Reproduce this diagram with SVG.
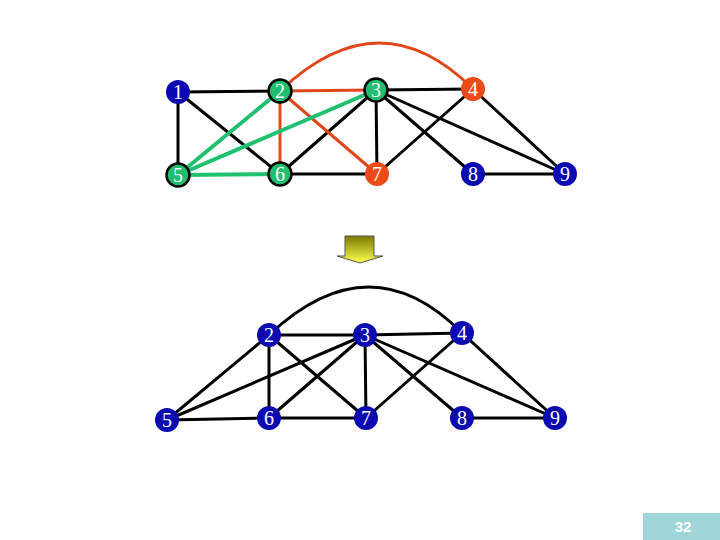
<svg xmlns="http://www.w3.org/2000/svg" width="720" height="540" viewBox="0 0 720 540">
<style>
.e{stroke:#000;stroke-width:3;fill:none;stroke-linecap:round}
.r{stroke:#e0481c;stroke-width:3;fill:none;stroke-linecap:round}
.g{stroke:#1fc070;stroke-width:4;fill:none;stroke-linecap:round}
.nb{fill:#0a0ab0}
.ng{fill:#1fbf6f;stroke:#000;stroke-width:2.5}
.nr{fill:#ec4a16}
.t{fill:#fff;font-family:"Liberation Serif","Times New Roman",serif;font-size:20px;text-anchor:middle}
</style>
<defs>
<linearGradient id="ag" x1="0" y1="0" x2="0" y2="1">
<stop offset="0" stop-color="#7a7a00"/>
<stop offset="1" stop-color="#ffff50"/>
</linearGradient>
</defs>
<rect width="720" height="540" fill="#fff"/>
<g id="connectors">
<path class="r" d="M280,91 Q380,-4 473,89"/>
<line class="e" x1="178" y1="92" x2="280" y2="91"/>
<line class="e" x1="178" y1="92" x2="178" y2="175"/>
<line class="e" x1="178" y1="92" x2="280" y2="174"/>
<line class="e" x1="376" y1="90" x2="473" y2="89"/>
<line class="e" x1="376" y1="90" x2="280" y2="174"/>
<line class="e" x1="376" y1="90" x2="377" y2="174"/>
<line class="e" x1="376" y1="90" x2="473" y2="174"/>
<line class="e" x1="376" y1="90" x2="565" y2="174"/>
<line class="e" x1="473" y1="89" x2="377" y2="174"/>
<line class="e" x1="473" y1="89" x2="565" y2="174"/>
<line class="e" x1="280" y1="174" x2="377" y2="174"/>
<line class="e" x1="473" y1="174" x2="565" y2="174"/>
<line class="r" x1="280" y1="91" x2="376" y2="90"/>
<line class="r" x1="280" y1="91" x2="280" y2="174"/>
<line class="r" x1="280" y1="91" x2="377" y2="174"/>
<line class="g" x1="178" y1="175" x2="280" y2="91"/>
<line class="g" x1="178" y1="175" x2="376" y2="90"/>
<line class="g" x1="178" y1="175" x2="280" y2="174"/>
<path class="e" d="M269,335 Q370,240 462,333"/>
<line class="e" x1="269" y1="335" x2="365" y2="335"/>
<line class="e" x1="365" y1="335" x2="462" y2="333"/>
<line class="e" x1="269" y1="335" x2="167" y2="420"/>
<line class="e" x1="365" y1="335" x2="167" y2="420"/>
<line class="e" x1="269" y1="335" x2="269" y2="418"/>
<line class="e" x1="269" y1="335" x2="366" y2="418"/>
<line class="e" x1="365" y1="335" x2="269" y2="418"/>
<line class="e" x1="365" y1="335" x2="366" y2="418"/>
<line class="e" x1="365" y1="335" x2="462" y2="418"/>
<line class="e" x1="365" y1="335" x2="555" y2="418"/>
<line class="e" x1="462" y1="333" x2="366" y2="418"/>
<line class="e" x1="462" y1="333" x2="555" y2="418"/>
<line class="e" x1="167" y1="420" x2="269" y2="418"/>
<line class="e" x1="269" y1="418" x2="366" y2="418"/>
<line class="e" x1="462" y1="418" x2="555" y2="418"/>
</g>
<g id="top-n1"><circle class="nb" cx="178" cy="92" r="12"/><text class="t" x="178" y="99">1</text></g>
<g id="top-n2"><circle class="ng" cx="280" cy="91" r="11.5"/><text class="t" x="280" y="98">2</text></g>
<g id="top-n3"><circle class="ng" cx="376" cy="90" r="11.5"/><text class="t" x="376" y="97">3</text></g>
<g id="top-n4"><circle class="nr" cx="473" cy="89" r="12"/><text class="t" x="473" y="96">4</text></g>
<g id="top-n5"><circle class="ng" cx="178" cy="175" r="11.5"/><text class="t" x="178" y="182">5</text></g>
<g id="top-n6"><circle class="ng" cx="280" cy="174" r="11.5"/><text class="t" x="280" y="181">6</text></g>
<g id="top-n7"><circle class="nr" cx="377" cy="174" r="12"/><text class="t" x="377" y="181">7</text></g>
<g id="top-n8"><circle class="nb" cx="473" cy="174" r="12"/><text class="t" x="473" y="181">8</text></g>
<g id="top-n9"><circle class="nb" cx="565" cy="174" r="12"/><text class="t" x="565" y="181">9</text></g>
<g id="arrow"><path d="M345,236 H374 V256 H383 L360,263 L337,256 H345 Z" fill="url(#ag)" stroke="#555" stroke-width="1"/></g>
<g id="bot-n2"><circle class="nb" cx="269" cy="335" r="12"/><text class="t" x="269" y="342">2</text></g>
<g id="bot-n3"><circle class="nb" cx="365" cy="335" r="12"/><text class="t" x="365" y="342">3</text></g>
<g id="bot-n4"><circle class="nb" cx="462" cy="333" r="12"/><text class="t" x="462" y="340">4</text></g>
<g id="bot-n5"><circle class="nb" cx="167" cy="420" r="12"/><text class="t" x="167" y="427">5</text></g>
<g id="bot-n6"><circle class="nb" cx="269" cy="418" r="12"/><text class="t" x="269" y="425">6</text></g>
<g id="bot-n7"><circle class="nb" cx="366" cy="418" r="12"/><text class="t" x="366" y="425">7</text></g>
<g id="bot-n8"><circle class="nb" cx="462" cy="418" r="12"/><text class="t" x="462" y="425">8</text></g>
<g id="bot-n9"><circle class="nb" cx="555" cy="418" r="12"/><text class="t" x="555" y="425">9</text></g>
<g id="page"><rect x="643" y="513" width="77" height="27" fill="#a0d6da"/><text x="683" y="532" fill="#fff" font-family="Liberation Sans,Arial,sans-serif" font-weight="bold" font-size="15" text-anchor="middle">32</text></g>
</svg>
